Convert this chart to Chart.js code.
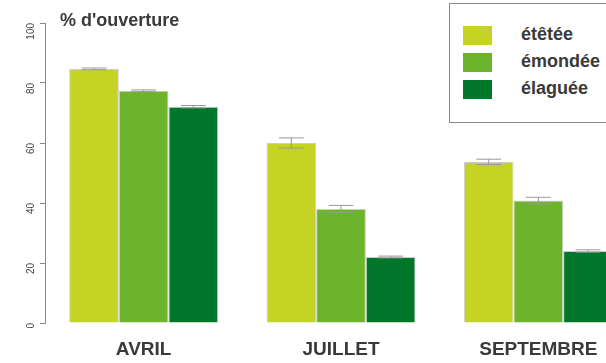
<!DOCTYPE html>
<html>
<head>
<meta charset="utf-8">
<script src="https://cdn.jsdelivr.net/npm/chart.js@4"></script>
<style>
  body { margin: 0; overflow: hidden; background: #fff; font-family: "Liberation Sans", Arial, sans-serif; }
  #wrap { position: relative; width: 645px; height: 363px; }
  #title { position: absolute; left: 60px; top: 10px; font-size: 18px; font-weight: bold; color: #3a3a3a; }
  #legend { position: absolute; left: 449px; top: 3px; width: 170px; height: 118px; border: 1px solid #888; background: #fff; }
  .item { position: absolute; left: 13px; height: 20px; }
  .sw { position: absolute; left: 0; top: 0; width: 29px; height: 19px; }
  .lab { position: absolute; left: 58px; top: -2px; font-size: 18px; font-weight: bold; color: #3a3a3a; white-space: nowrap; }
</style>
</head>
<body>
<div id="wrap">
  <canvas id="chart"></canvas>
  <div id="title">% d'ouverture</div>
  <div id="legend"></div>
</div>
<script>
// donnees
const mois = ["AVRIL", "JUILLET", "SEPTEMBRE"];
const series = ["étêtée", "émondée", "élaguée"];
const couleurs = ["#c5d325", "#6cb42c", "#00772b"];
const etetee = [84.7, 60.0, 53.7];
const emondee = [77.4, 38.0, 40.8];
const elaguee = [72.1, 22.0, 24.0];
const errEtetee = [0.3, 1.7, 0.9];
const errEmondee = [0.3, 1.2, 1.1];
const errElaguee = [0.4, 0.3, 0.4];
const yTicks = [0, 20, 40, 60, 80, 100];

const valeurs = [etetee, emondee, elaguee];
const erreurs = [errEtetee, errEmondee, errElaguee];

// barres d'erreur
const errorBars = {
  id: "errorBars",
  afterDatasetsDraw(chart) {
    const ctx = chart.ctx;
    const y = chart.scales.y;
    ctx.save();
    ctx.strokeStyle = "#999";
    ctx.lineWidth = 1;
    chart.data.datasets.forEach((ds, i) => {
      const meta = chart.getDatasetMeta(i);
      meta.data.forEach((bar, j) => {
        const v = ds.data[j], e = erreurs[i][j];
        const top = y.getPixelForValue(v + e);
        const bot = y.getPixelForValue(v - e);
        const half = bar.width / 4;
        ctx.beginPath();
        ctx.moveTo(bar.x, top); ctx.lineTo(bar.x, bot);
        ctx.moveTo(bar.x - half, top); ctx.lineTo(bar.x + half, top);
        ctx.moveTo(bar.x - half, bot); ctx.lineTo(bar.x + half, bot);
        ctx.stroke();
      });
    });
    ctx.restore();
  }
};

new Chart(document.getElementById("chart"), {
  type: "bar",
  data: {
    labels: mois,
    datasets: series.map((nom, i) => ({
      label: nom,
      data: valeurs[i],
      backgroundColor: couleurs[i],
      borderColor: "rgba(90,90,90,0.3)",
      borderWidth: 1,
      barPercentage: 1,
      categoryPercentage: 0.755,
    })),
  },
  options: {
    responsive: true,
    maintainAspectRatio: false,
    animation: false,
    layout: { padding: { top: 23, right: 8, left: 0, bottom: 0 } },
    plugins: { legend: { display: false }, tooltip: { enabled: false } },
    scales: {
      x: {
        grid: { display: false },
        border: { display: false },
        ticks: { padding: 7, color: "#3a3a3a", font: { family: "Liberation Sans", size: 19, weight: "bold" } },
        afterFit: (scale) => { scale.height = 40; },
      },
      y: {
        min: 0,
        max: 100,
        afterBuildTicks: (scale) => { scale.ticks = yTicks.map((v) => ({ value: v })); },
        grid: { drawOnChartArea: false, tickLength: 5, color: "#888" },
        border: { display: true, color: "#888" },
        ticks: {
          minRotation: 90, maxRotation: 90, padding: 9,
          color: "#444", font: { family: "Liberation Sans", size: 10 },
        },
        afterFit: (scale) => { scale.width = 45; },
      },
    },
  },
  plugins: [errorBars],
});

// legende
const leg = document.getElementById("legend");
series.forEach((nom, i) => {
  const it = document.createElement("div");
  it.className = "item";
  it.style.top = (22 + i * 27) + "px";
  it.innerHTML = '<div class="sw" style="background:' + couleurs[i] + '"></div><div class="lab">' + nom + '</div>';
  leg.appendChild(it);
});
</script>
</body>
</html>
